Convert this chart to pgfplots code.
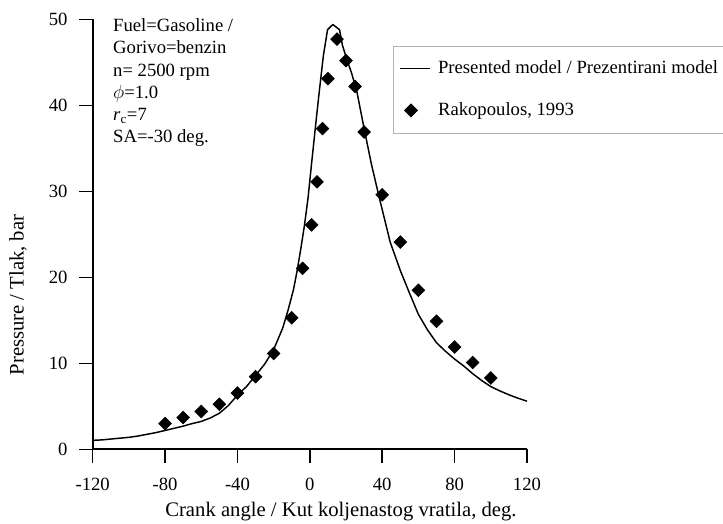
\documentclass[border=0pt]{standalone}
\usepackage{fontspec}
\setmainfont{Liberation Serif}
\usepackage{pgfplots}
\pgfplotsset{compat=1.18}
\pgfplotsset{
  lineleg/.style={legend image code/.code={\draw[##1] (2pt,0pt) -- (25pt,0pt);}},
  markleg/.style={legend image code/.code={\draw[##1] plot coordinates {(10.5pt,0pt)};}},
}
\begin{document}
\fontsize{14}{16.65}\selectfont
\begin{tikzpicture}
\begin{axis}[
  name=ax,
  scale only axis,
  width=325.7pt, height=322.5pt,
  xmin=-120, xmax=120, ymin=0, ymax=50,
  axis lines=left,
  axis line style={-, line width=1.4pt},
  xtick={-120,-80,-40,0,40,80,120},
  xticklabels={-120,-80,-40,0,40,80,120},
  ytick={0,10,20,30,40,50},
  yticklabels={0,10,20,30,40,50},
  tick align=outside,
  major tick length=10pt,
  tick style={line width=1.2pt, black},
  tick label style={font=\fontsize{14}{16.65}\selectfont},
  xticklabel style={yshift=-7pt},
  yticklabel style={xshift=-4pt},
  /pgf/number format/assume math mode=true,
  xlabel={Crank angle / Kut koljenastog vratila, deg.},
  ylabel={Pressure / Tlak, bar},
  label style={font=\fontsize{15.5}{18}\selectfont},
  xlabel style={at={(axis description cs:0.5717,-0.1435)}, anchor=center},
  ylabel style={at={(axis description cs:-0.172,0.359)}, anchor=center},
  clip=false,
  legend cell align=left,
  legend style={at={(axis description cs:0.692,0.9386)}, anchor=north west,
    draw=black!30, line width=0.6pt, fill=white,
    inner xsep=4pt, inner ysep=9pt, row sep=15.5pt, column sep=3.25pt,
    font=\fontsize{14}{16.65}\selectfont,
    nodes={inner sep=2pt}},
]
\addplot[black, line width=1.1pt, line join=round, lineleg]
coordinates {
(-120,1.05) (-115,1.1) (-110,1.2) (-105,1.3) (-100,1.4) (-95,1.55) (-90,1.75)
(-85,1.95) (-80,2.2) (-75,2.45) (-70,2.7) (-65,3.0) (-60,3.25) (-55,3.65)
(-50,4.2) (-45,5.1) (-40,6.3) (-35,7.3) (-30,8.6) (-25,9.9) (-20,11.6)
(-15,14.1) (-12,16.2) (-9,18.6) (-7,20.8) (-5,23.3) (-3,26.0) (-1,29.2)
(1,33.3) (3,37.3) (5,41.2) (7.5,45.8) (9.8,48.8) (12.7,49.4)
(16.4,48.8) (18,47.0) (20.5,45.3) (23,43.8) (26,41.6) (30,37.3) (34,33.2)
(38,29.6) (44.4,24.1) (50,20.8) (55,18.2) (60,15.7) (65,13.9) (70,12.4)
(75,11.4) (80,10.5) (85,9.7) (90,8.8) (95,8.0) (100,7.3) (105,6.8)
(110,6.35) (115,5.95) (120,5.6)
};
\addlegendentry{Presented model / Prezentirani model}
\addplot[only marks, mark=square*, mark size=3.4pt,
  mark options={rotate=45, fill=black, draw=black}, markleg]
coordinates {
(-80,3.0) (-70,3.7) (-60,4.4) (-50,5.25) (-40,6.55) (-30,8.45) (-20,11.15)
(-10,15.3) (-4,21.05) (1,26.1) (4,31.1) (7,37.3) (10,43.1) (15,47.7)
(20,45.2) (25,42.2) (30,36.9) (40,29.6) (50,24.1) (60,18.5) (70,14.9)
(80,11.9) (90,10.1) (100,8.3)
};
\addlegendentry{Rakopoulos, 1993}
\end{axis}
\node[anchor=base west, inner sep=0pt, align=left, font=\fontsize{14}{16.65}\selectfont]
  at (15.2pt,230pt) {Fuel=Gasoline /\\Gorivo=benzin\\n= 2500 rpm\\$\phi$=1.0\\\textit{r}\textsubscript{c}=7\\SA=-30 deg.};
\pgfresetboundingbox
\path (-69.5pt,-55.3pt) rectangle (472.7pt,337pt);
\end{tikzpicture}
\end{document}
